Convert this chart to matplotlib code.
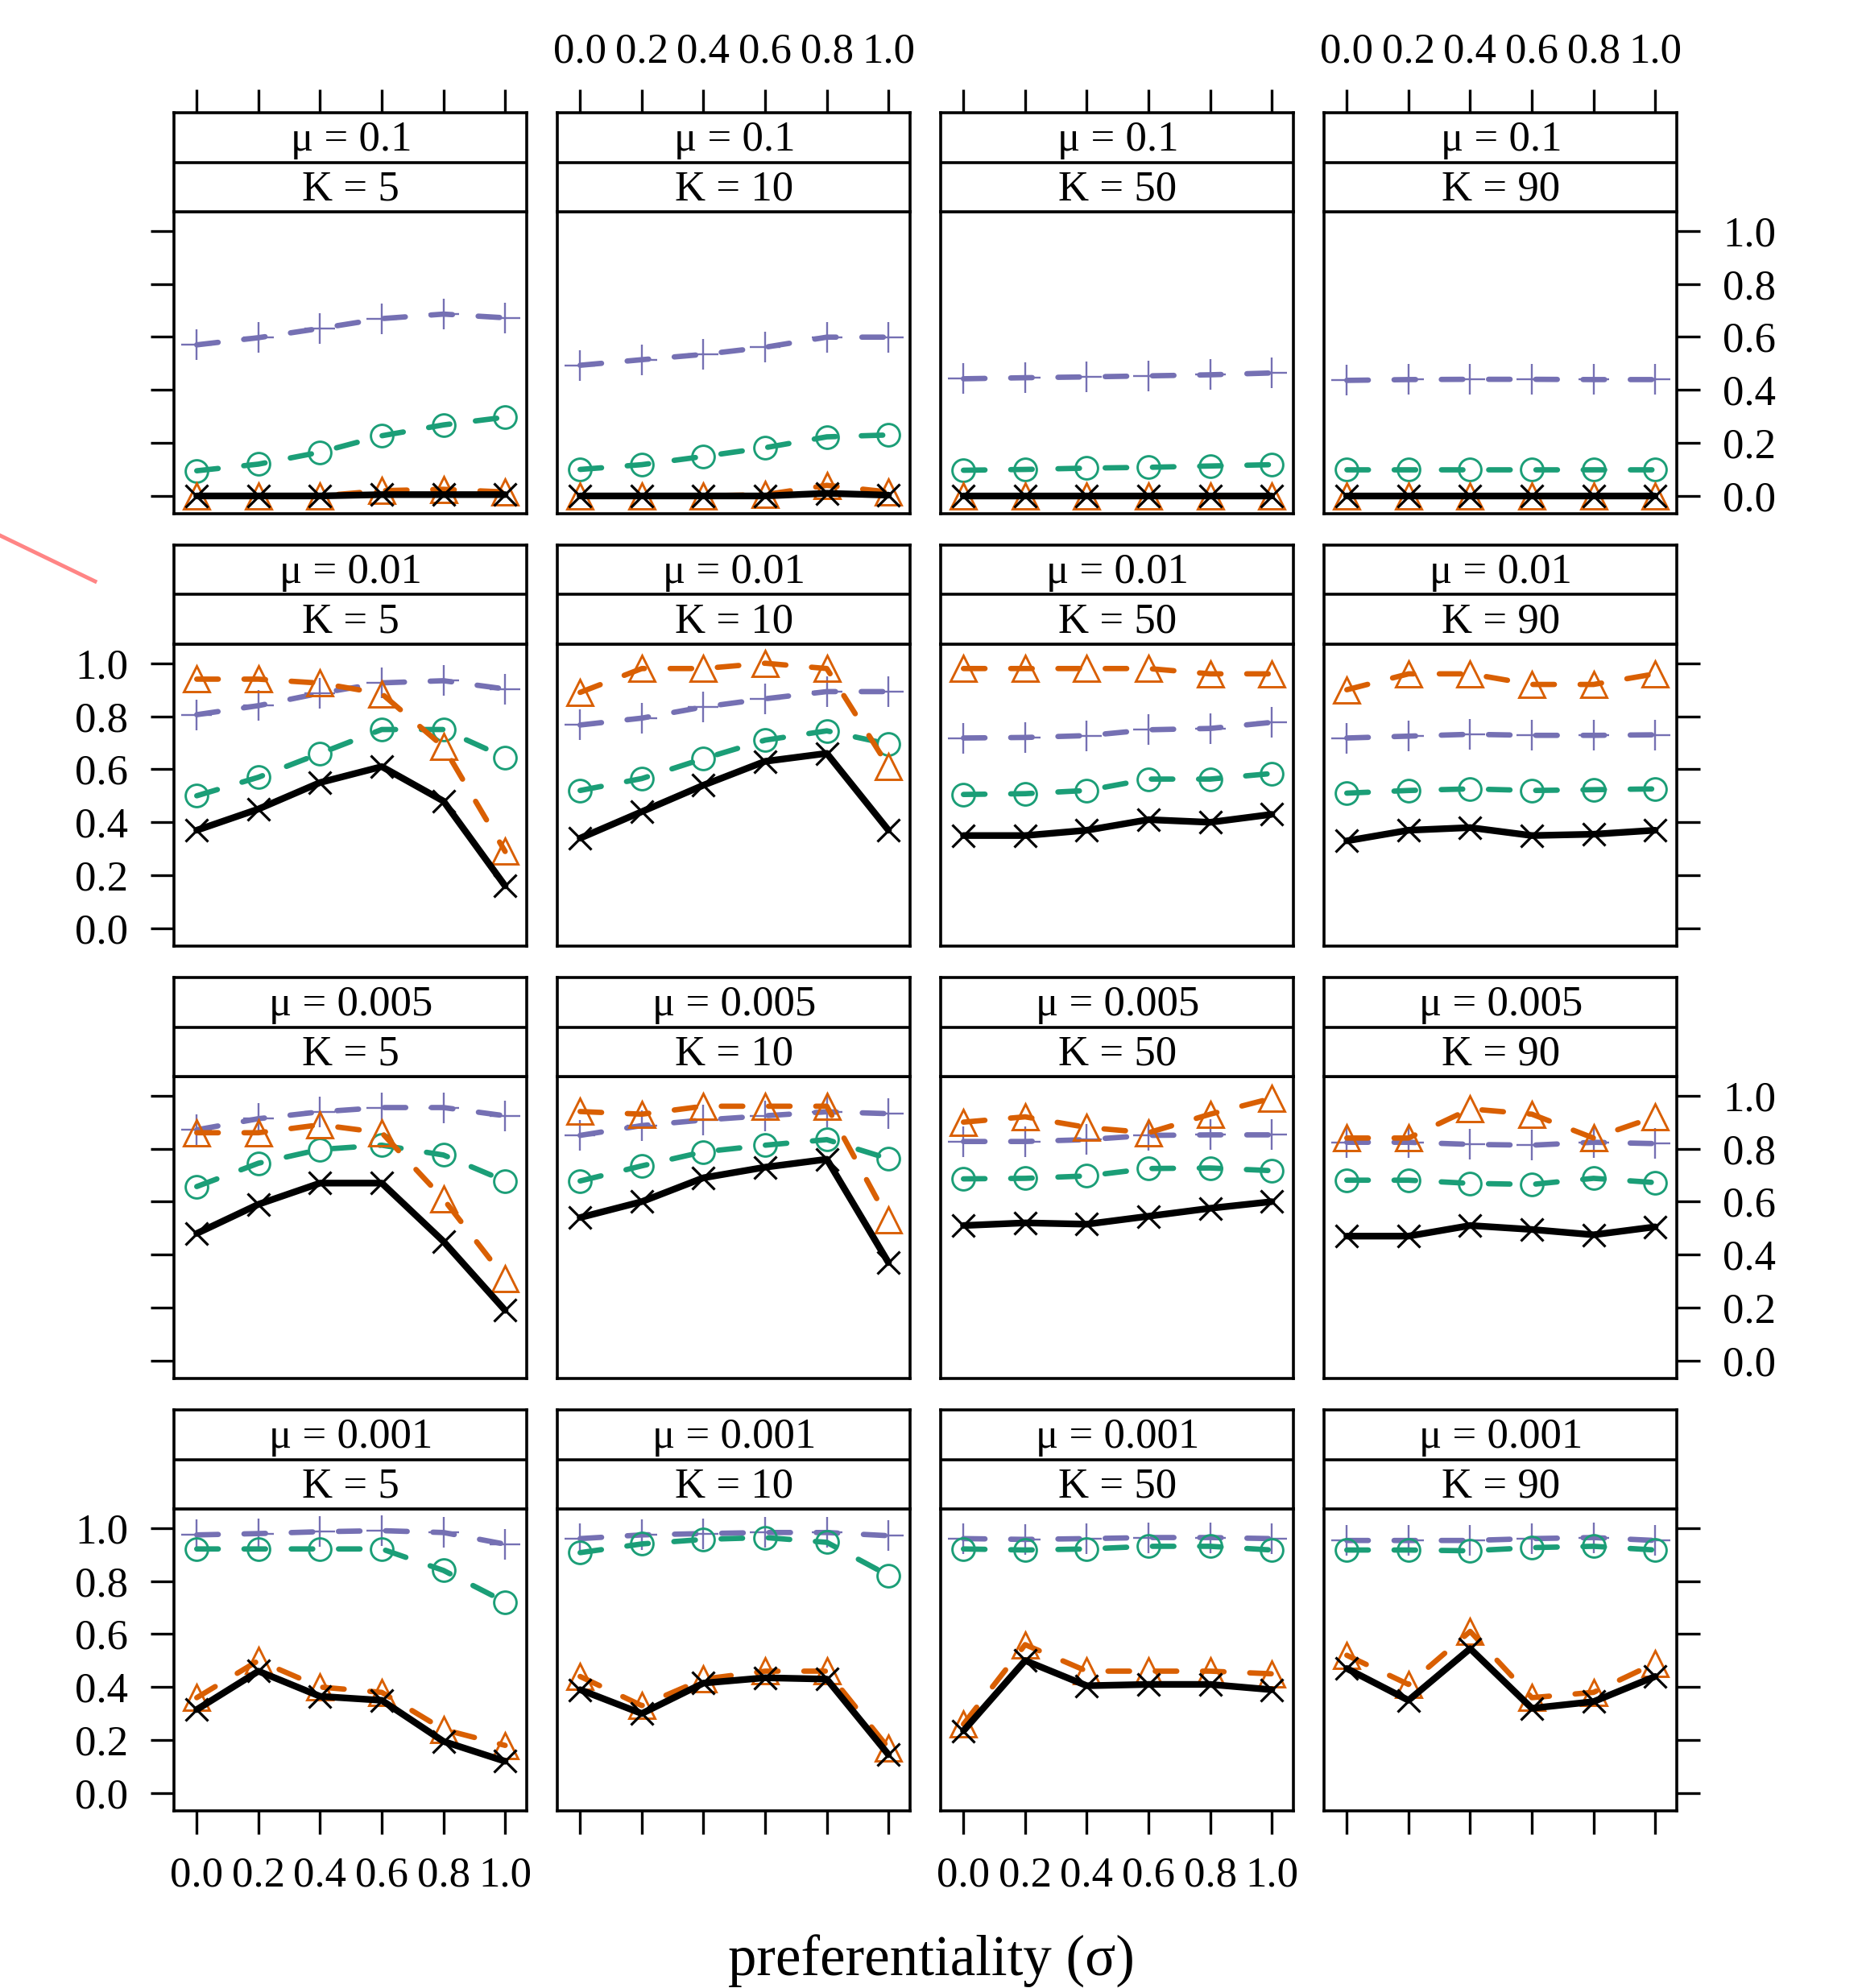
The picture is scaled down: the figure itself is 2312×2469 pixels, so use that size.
import matplotlib
matplotlib.use('Agg')
import matplotlib.pyplot as plt
from matplotlib.lines import Line2D

plt.rcParams['font.family'] = ['Liberation Serif', 'DejaVu Serif']

# preferentiality values on the x axis
sigma = [0.0, 0.2, 0.4, 0.6, 0.8, 1.0]
mu_labels = ['0.1', '0.01', '0.005', '0.001']
k_labels = ['5', '10', '50', '90']
tick_vals = [0.0, 0.2, 0.4, 0.6, 0.8, 1.0]
tick_text = ['0.0', '0.2', '0.4', '0.6', '0.8', '1.0']

# one list per mu row, inside it one list per K column
cross = [
    [[0.0, 0.0, 0.0, 0.005, 0.005, 0.005], [0.0, 0.0, 0.0, 0.0, 0.01, 0.003],
     [0.0, 0.0, 0.0, 0.0, 0.0, 0.0], [0.0, 0.0, 0.0, 0.0, 0.0, 0.0]],
    [[0.37, 0.45, 0.55, 0.61, 0.48, 0.16], [0.34, 0.44, 0.54, 0.63, 0.66, 0.37],
     [0.35, 0.35, 0.37, 0.41, 0.40, 0.43], [0.33, 0.37, 0.38, 0.35, 0.355, 0.37]],
    [[0.48, 0.59, 0.67, 0.67, 0.45, 0.19], [0.54, 0.60, 0.69, 0.73, 0.76, 0.37],
     [0.51, 0.52, 0.515, 0.545, 0.575, 0.60], [0.47, 0.47, 0.51, 0.495, 0.475, 0.505]],
    [[0.315, 0.46, 0.365, 0.35, 0.195, 0.12], [0.39, 0.30, 0.415, 0.435, 0.43, 0.145],
     [0.235, 0.50, 0.405, 0.41, 0.41, 0.39], [0.47, 0.35, 0.545, 0.32, 0.345, 0.44]],
]
triangle = [
    [[0.0, 0.0, 0.0, 0.02, 0.025, 0.015], [0.0, 0.0, 0.0, 0.005, 0.04, 0.015],
     [0.0, 0.0, 0.0, 0.0, 0.0, 0.0], [0.0, 0.0, 0.0, 0.0, 0.0, 0.0]],
    [[0.94, 0.94, 0.925, 0.885, 0.685, 0.29], [0.89, 0.98, 0.98, 1.0, 0.98, 0.61],
     [0.98, 0.98, 0.98, 0.98, 0.96, 0.96], [0.90, 0.96, 0.96, 0.92, 0.92, 0.96]],
    [[0.86, 0.86, 0.89, 0.86, 0.61, 0.31], [0.94, 0.93, 0.96, 0.96, 0.96, 0.53],
     [0.90, 0.92, 0.88, 0.86, 0.93, 0.99], [0.84, 0.84, 0.95, 0.93, 0.84, 0.92]],
    [[0.36, 0.50, 0.40, 0.38, 0.24, 0.18], [0.44, 0.33, 0.43, 0.46, 0.46, 0.17],
     [0.26, 0.56, 0.46, 0.46, 0.46, 0.45], [0.52, 0.41, 0.61, 0.36, 0.38, 0.49]],
]
circle = [
    [[0.095, 0.12, 0.165, 0.227, 0.268, 0.297], [0.10, 0.118, 0.149, 0.182, 0.223, 0.23],
     [0.097, 0.10, 0.105, 0.108, 0.113, 0.118], [0.10, 0.10, 0.10, 0.10, 0.10, 0.10]],
    [[0.50, 0.57, 0.66, 0.75, 0.75, 0.645], [0.52, 0.565, 0.64, 0.71, 0.745, 0.695],
     [0.505, 0.508, 0.52, 0.563, 0.563, 0.584], [0.51, 0.52, 0.526, 0.52, 0.523, 0.526]],
    [[0.657, 0.745, 0.797, 0.813, 0.776, 0.678], [0.678, 0.735, 0.788, 0.813, 0.834, 0.762],
     [0.686, 0.688, 0.697, 0.725, 0.727, 0.717], [0.681, 0.681, 0.669, 0.665, 0.688, 0.672]],
    [[0.921, 0.921, 0.921, 0.921, 0.84, 0.721], [0.907, 0.94, 0.957, 0.964, 0.946, 0.821],
     [0.921, 0.917, 0.921, 0.931, 0.931, 0.917], [0.917, 0.917, 0.914, 0.926, 0.931, 0.917]],
]
plus = [
    [[0.57, 0.597, 0.632, 0.669, 0.686, 0.672], [0.493, 0.514, 0.534, 0.561, 0.599, 0.599],
     [0.442, 0.446, 0.449, 0.453, 0.457, 0.464], [0.436, 0.439, 0.44, 0.44, 0.439, 0.439]],
    [[0.806, 0.84, 0.887, 0.926, 0.934, 0.903], [0.767, 0.793, 0.835, 0.866, 0.893, 0.893],
     [0.718, 0.72, 0.727, 0.749, 0.754, 0.777], [0.718, 0.725, 0.732, 0.728, 0.728, 0.73]],
    [[0.871, 0.913, 0.939, 0.955, 0.955, 0.924], [0.85, 0.887, 0.908, 0.924, 0.939, 0.932],
     [0.827, 0.827, 0.834, 0.85, 0.852, 0.852], [0.824, 0.824, 0.816, 0.813, 0.824, 0.819]],
    [[0.974, 0.979, 0.986, 0.99, 0.983, 0.939], [0.96, 0.974, 0.979, 0.983, 0.983, 0.971],
     [0.96, 0.957, 0.96, 0.964, 0.964, 0.96], [0.953, 0.953, 0.953, 0.96, 0.964, 0.953]],
]

W, H = 2312, 2469
fig = plt.figure(figsize=(W / 100, H / 100), dpi=100)

col_left = [216, 692, 1168, 1644]
panel_w = 438
row_top = [140, 677, 1214, 1751]
strip_h = 123
panel_h = 375

frame_lw = 2.6
fs = 38
dash_kw = dict(lw=4.8, dashes=(4, 4.8), dash_capstyle='round', solid_capstyle='round')

def fig_rect(x, y, w, h):
    return [x / W, 1 - (y + h) / H, w / W, h / H]

for r in range(4):
    for c in range(4):
        x0 = col_left[c]
        y0 = row_top[r]
        ax = fig.add_axes(fig_rect(x0, y0 + strip_h, panel_w, panel_h))
        ax.set_xlim(-0.074, 1.07)
        ax.set_ylim(-0.067, 1.072)

        ax.plot(sigma, plus[r][c], color='#7570B3', marker='+', ms=28, mew=1.7,
                zorder=2, **dash_kw)
        ax.plot(sigma, circle[r][c], color='#1B9E77', marker='o', ms=20,
                mfc='none', mew=2.1, zorder=3, **dash_kw)
        ax.plot(sigma, triangle[r][c], color='#D95F02', marker='^', ms=23,
                mfc='none', mew=2.1, zorder=4, **dash_kw)
        ax.plot(sigma, cross[r][c], color='black', lw=6.0, solid_capstyle='round',
                solid_joinstyle='round', marker='x', ms=20, mew=2.3, zorder=5)

        for s in ax.spines.values():
            s.set_linewidth(frame_lw)

        ax.set_xticks(tick_vals)
        ax.set_xticklabels(tick_text)
        ax.set_yticks(tick_vals)
        ax.set_yticklabels(tick_text)
        ax.tick_params(direction='out', length=21, width=2.4, labelsize=fs, pad=20)
        ax.tick_params(axis='x', top=False, bottom=(r == 3),
                       labelbottom=(r == 3 and c % 2 == 0), labeltop=False)
        ax.tick_params(axis='y', left=(c == 0), right=(c == 3),
                       labelleft=(c == 0 and r % 2 == 1),
                       labelright=(c == 3 and r % 2 == 0))

        # two-line strip above each panel
        sax = fig.add_axes(fig_rect(x0, y0, panel_w, strip_h))
        sax.set_xlim(ax.get_xlim())
        sax.set_ylim(0, 2)
        sax.axhline(1, color='black', lw=frame_lw)
        for s in sax.spines.values():
            s.set_linewidth(frame_lw)
        sax.text(0.5, 1.44, '\u03bc = ' + mu_labels[r], ha='center', va='center',
                 fontsize=fs)
        sax.text(0.5, 0.44, 'K = ' + k_labels[c], ha='center', va='center',
                 fontsize=fs)
        sax.set_yticks([])
        if r == 0:
            sax.set_xticks(tick_vals)
            sax.set_xticklabels(tick_text)
            sax.tick_params(axis='x', direction='out', length=21, width=2.4,
                            labelsize=fs, pad=16, top=True, bottom=False,
                            labeltop=(c % 2 == 1), labelbottom=False)
        else:
            sax.set_xticks([])

fig.text(0.5, 1 - 2436 / H, 'preferentiality (\u03c3)', ha='center', va='center',
         fontsize=51)

# stray pink stroke at the left edge
fig.add_artist(Line2D([0, 118 / W], [1 - 665 / H, 1 - 722 / H],
                      color='#ff8585', lw=3.5, transform=fig.transFigure))

fig.savefig('out.png', dpi=100)
